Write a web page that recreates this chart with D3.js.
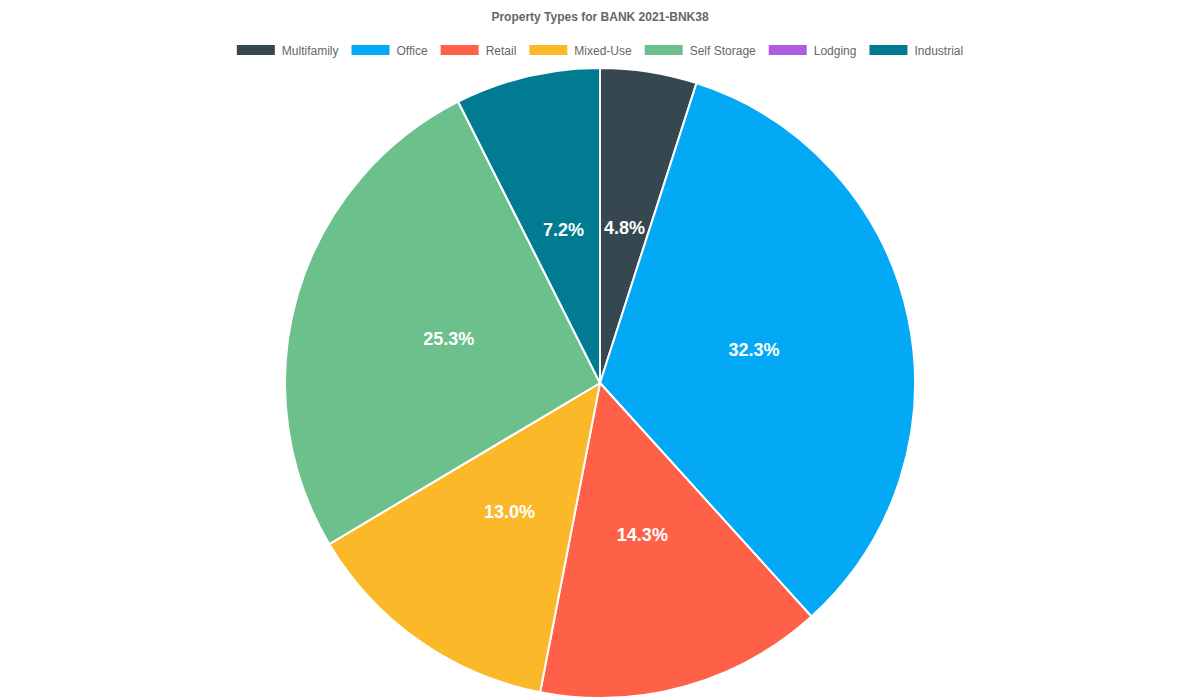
<!DOCTYPE html>
<html>
<head>
  <title>Property Types for BANK 2021-BNK38</title>
  <style>
    body { margin: 0; background: #fff; }
    svg { display: block; font-family: "Liberation Sans", Arial, sans-serif; }
    .title { font-size: 12px; font-weight: bold; fill: #666; }
    .legend text { font-size: 12px; fill: #666; }
    .label { font-size: 18px; font-weight: bold; fill: #fff; }
  </style>
</head>
<body>
  <svg width="1200" height="700"></svg>

  <script src="https://d3js.org/d3.v7.min.js"></script>
  <script>
    // Datos
    const categories = ["Multifamily", "Office", "Retail", "Mixed-Use", "Self Storage", "Lodging", "Industrial"];
    const values = [4.8, 32.3, 14.3, 13.0, 25.3, 0, 7.2];
    const colors = ["#37474f", "#03a9f4", "#fe6148", "#fbb829", "#6cc08b", "#b05ce0", "#007b91"];

    const width = 1200;
    const height = 700;
    const cx = 600, cy = 383, radius = 315;

    const svg = d3.select("svg");

    // Titulo
    svg.append("text")
      .attr("class", "title")
      .attr("x", width / 2)
      .attr("y", 21)
      .attr("text-anchor", "middle")
      .text("Property Types for BANK 2021-BNK38");

    // Leyenda
    const legend = svg.append("g").attr("class", "legend");
    const items = legend.selectAll("g")
      .data(categories)
      .enter()
      .append("g");

    items.append("rect")
      .attr("width", 38)
      .attr("height", 10)
      .attr("fill", (d, i) => colors[i]);

    items.append("text")
      .attr("x", 45)
      .attr("y", 9.5)
      .text(d => d);

    // colocar los items uno tras otro, centrados
    let widths = [];
    items.each(function () {
      widths.push(45 + this.querySelector("text").getComputedTextLength());
    });
    const gap = 13;
    const total = d3.sum(widths) + gap * (widths.length - 1);
    let xpos = (width - total) / 2;
    items.attr("transform", (d, i) => {
      const t = `translate(${xpos},45)`;
      xpos += widths[i] + gap;
      return t;
    });

    // Pastel
    const pie = d3.pie().sort(null).value(d => d);
    const arc = d3.arc().innerRadius(0).outerRadius(radius);
    const labelArc = d3.arc().innerRadius(radius / 2).outerRadius(radius / 2);

    const g = svg.append("g").attr("transform", `translate(${cx},${cy})`);
    const arcs = pie(values);

    g.selectAll("path")
      .data(arcs)
      .enter()
      .append("path")
      .attr("d", arc)
      .attr("fill", (d, i) => colors[i])
      .attr("stroke", "#fff")
      .attr("stroke-width", 2);

    g.selectAll(".label")
      .data(arcs.filter(d => d.data > 0))
      .enter()
      .append("text")
      .attr("class", "label")
      .attr("transform", d => `translate(${labelArc.centroid(d)})`)
      .attr("text-anchor", "middle")
      .attr("dy", "0.35em")
      .text(d => d.data.toFixed(1) + "%");
  </script>
</body>
</html>
